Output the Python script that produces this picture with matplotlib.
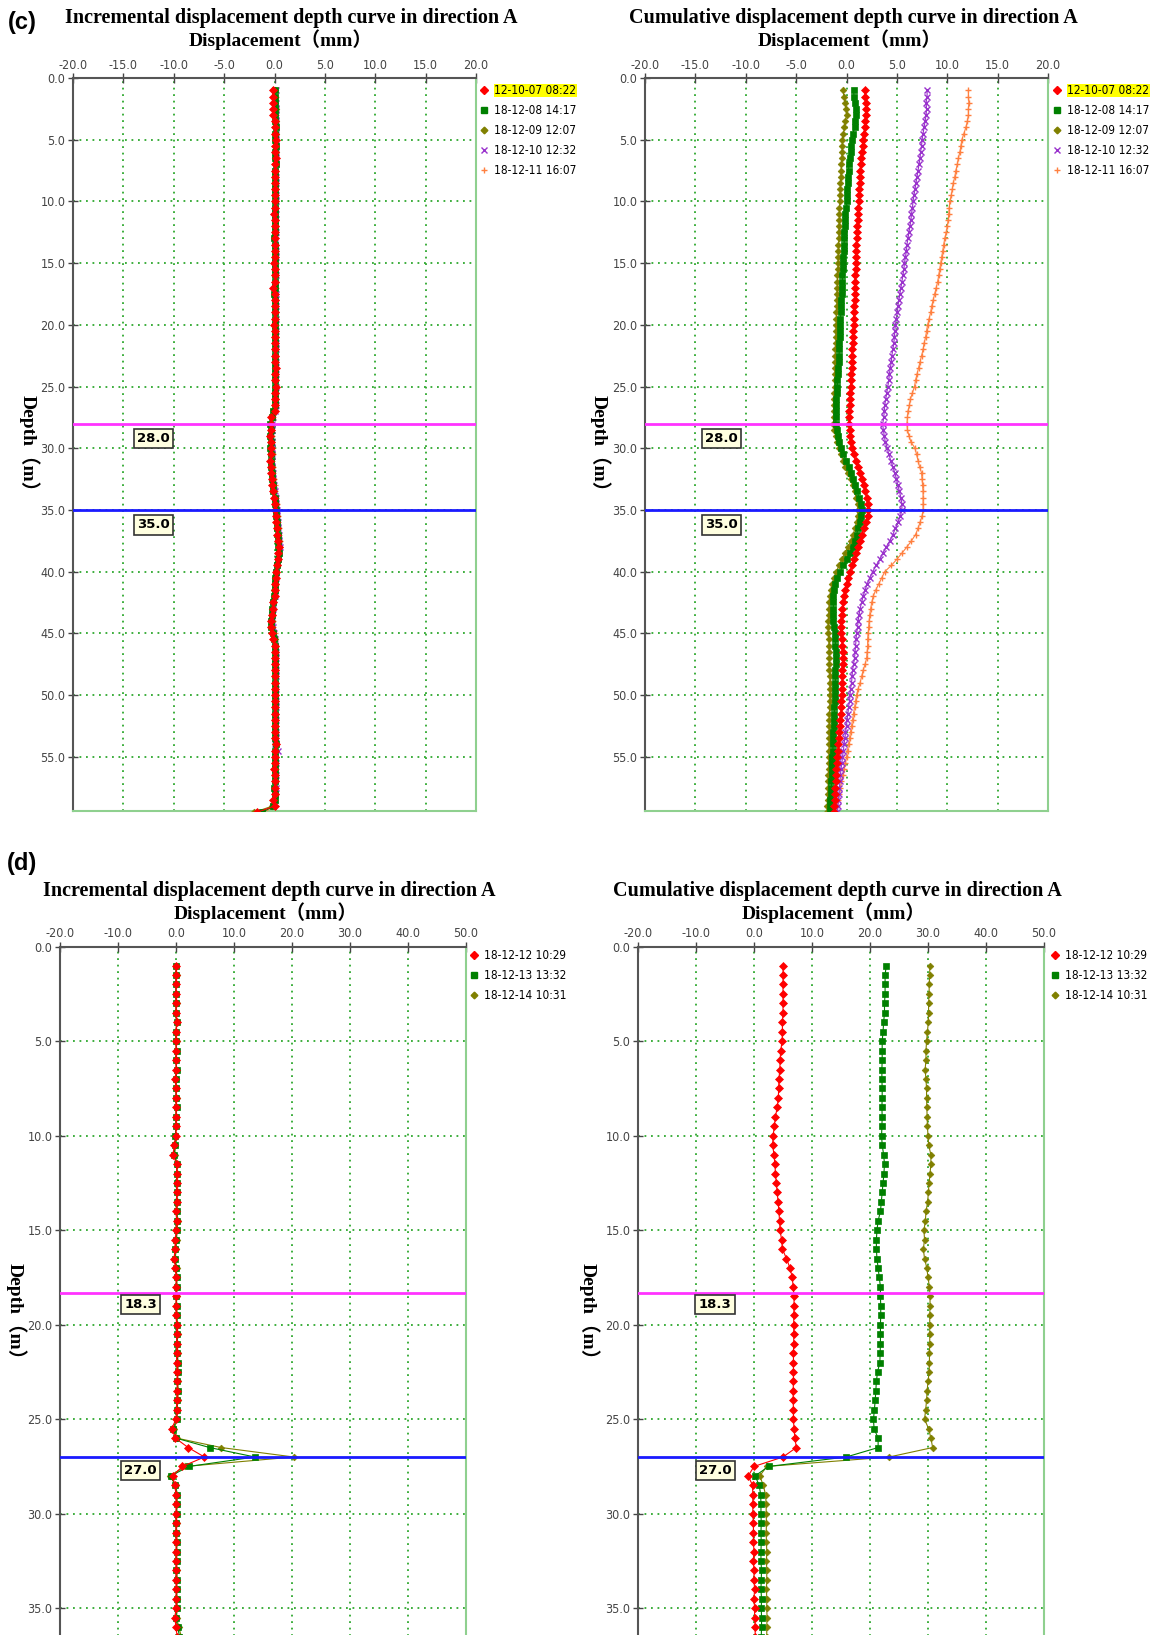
import numpy as np
import matplotlib
matplotlib.use("Agg")
import matplotlib.pyplot as plt
from matplotlib.lines import Line2D

# depth stations (m), 0.5 m spacing
depth_c = np.arange(1.0, 59.51, 0.5)
depth_d = np.arange(1.0, 37.01, 0.5)

labels_c = ["12-10-07 08:22", "18-12-08 14:17", "18-12-09 12:07", "18-12-10 12:32", "18-12-11 16:07"]
labels_d = ["18-12-12 10:29", "18-12-13 13:32", "18-12-14 10:31"]

# ---- (c) incremental displacement (mm), rows of 5 m ----
inc_c_red = [-0.1, -0.1, -0.15, -0.1, -0.15, 0.0, 0.05, 0.05, 0.1, 0.05,
             0.05, 0.1, 0.05, 0.05, 0.0, 0.05, 0.05, 0.0, 0.0, 0.05,
             -0.05, 0.0, 0.05, 0.0, 0.0, 0.05, 0.0, 0.0, -0.05, 0.0,
             0.0, 0.05, -0.1, 0.0, 0.0, 0.05, 0.0, 0.0, -0.05, 0.0,
             0.0, 0.05, 0.0, 0.0, 0.05, 0.1, 0.05, 0.0, 0.1, 0.05,
             0.0, 0.05, 0.0, -0.3, -0.35, -0.3, -0.4, -0.3, -0.35, -0.3,
             -0.4, -0.35, -0.3, -0.25, -0.2, -0.15, -0.05, 0.0, 0.05, 0.1,
             0.15, 0.2, 0.25, 0.3, 0.4, 0.35, 0.3, 0.2, 0.15, 0.1,
             0.0, 0.05, 0.0, -0.1, -0.15, -0.2, -0.3, -0.35, -0.2, -0.1,
             0.0, 0.0, 0.05, 0.05, 0.0, 0.0, 0.05, 0.0, 0.0, 0.05,
             0.05, 0.0, 0.05, 0.0, 0.0, 0.05, 0.1, 0.05, 0.0, 0.0,
             -0.05, 0.0, 0.05, 0.0, 0.0, -0.1, 0.0, -1.7]
inc_c_green = [0.0, 0.05, 0.0, 0.05, 0.0, 0.05, 0.1, 0.05, 0.05, 0.1,
               0.05, 0.05, 0.1, 0.0, 0.05, 0.0, 0.05, 0.05, 0.0, 0.0,
               0.0, 0.05, 0.0, 0.05, -0.05, 0.0, 0.05, 0.0, 0.0, 0.05,
               0.0, 0.0, 0.05, -0.05, 0.0, 0.0, 0.05, 0.0, 0.05, 0.0,
               0.05, 0.0, 0.05, 0.0, 0.0, 0.05, 0.0, 0.05, 0.0, 0.05,
               0.05, 0.0, -0.1, -0.25, -0.4, -0.35, -0.45, -0.3, -0.4, -0.3,
               -0.35, -0.3, -0.2, -0.2, -0.1, -0.1, 0.0, 0.05, 0.1, 0.15,
               0.2, 0.25, 0.3, 0.35, 0.35, 0.4, 0.3, 0.25, 0.15, 0.05,
               0.05, 0.0, -0.05, -0.1, -0.2, -0.25, -0.3, -0.3, -0.15, -0.05,
               0.05, 0.0, 0.0, 0.05, 0.05, 0.0, 0.0, 0.05, 0.05, 0.0,
               0.0, 0.05, 0.0, 0.05, 0.05, 0.0, 0.15, 0.0, 0.05, 0.0,
               0.0, 0.05, 0.0, -0.05, 0.0, 0.0, -0.1, -1.2]
inc_c_olive = [0.05, 0.0, 0.05, 0.1, 0.05, 0.1, 0.05, 0.1, 0.05, 0.05,
               0.1, 0.05, 0.05, 0.0, 0.05, 0.05, 0.0, 0.05, 0.05, 0.0,
               0.05, 0.0, 0.0, 0.05, 0.0, 0.0, 0.05, 0.05, 0.0, 0.0,
               0.05, 0.0, 0.0, 0.05, 0.0, 0.05, 0.0, 0.05, 0.0, 0.05,
               0.0, 0.05, 0.05, 0.0, 0.05, 0.0, 0.05, 0.0, 0.05, 0.0,
               0.0, 0.05, -0.05, -0.2, -0.3, -0.3, -0.35, -0.35, -0.3, -0.25,
               -0.3, -0.25, -0.2, -0.15, -0.1, -0.05, 0.05, 0.1, 0.15, 0.2,
               0.25, 0.3, 0.35, 0.4, 0.45, 0.35, 0.3, 0.2, 0.1, 0.05,
               0.0, -0.05, -0.05, -0.15, -0.2, -0.25, -0.25, -0.2, -0.1, 0.0,
               0.0, 0.05, 0.05, 0.0, 0.05, 0.05, 0.0, 0.05, 0.0, 0.05,
               0.05, 0.0, 0.05, 0.0, 0.05, 0.05, 0.0, 0.05, 0.0, 0.05,
               0.0, 0.05, 0.0, 0.05, 0.0, -0.05, -0.2, -2.0]
inc_c_purple = [0.1, 0.05, 0.1, 0.15, 0.1, 0.15, 0.1, 0.15, 0.1, 0.1,
                0.15, 0.1, 0.1, 0.05, 0.1, 0.1, 0.05, 0.1, 0.1, 0.05,
                0.1, 0.05, 0.05, 0.1, 0.05, 0.05, 0.1, 0.1, 0.05, 0.05,
                0.1, 0.05, 0.05, 0.1, 0.05, 0.1, 0.05, 0.1, 0.05, 0.1,
                0.05, 0.1, 0.1, 0.05, 0.1, 0.05, 0.1, 0.05, 0.1, 0.05,
                0.05, 0.1, 0.0, -0.15, -0.25, -0.2, -0.3, -0.25, -0.2, -0.2,
                -0.25, -0.2, -0.15, -0.1, -0.05, 0.0, 0.1, 0.15, 0.2, 0.25,
                0.3, 0.35, 0.4, 0.45, 0.5, 0.4, 0.35, 0.25, 0.15, 0.1,
                0.05, 0.0, 0.0, -0.1, -0.15, -0.2, -0.2, -0.15, -0.05, 0.05,
                0.05, 0.1, 0.1, 0.05, 0.1, 0.1, 0.05, 0.1, 0.05, 0.1,
                0.1, 0.05, 0.1, 0.05, 0.1, 0.1, 0.05, 0.3, 0.05, 0.1,
                0.05, 0.1, 0.05, 0.1, 0.05, 0.0, -0.1, -1.5]
inc_c_orange = [0.05, 0.1, 0.05, 0.1, 0.15, 0.1, 0.1, 0.15, 0.1, 0.15,
                0.1, 0.15, 0.1, 0.1, 0.05, 0.1, 0.1, 0.05, 0.1, 0.05,
                0.05, 0.1, 0.1, 0.05, 0.05, 0.1, 0.05, 0.05, 0.1, 0.05,
                0.05, 0.1, 0.1, 0.05, 0.1, 0.05, 0.1, 0.05, 0.1, 0.05,
                0.1, 0.05, 0.1, 0.1, 0.05, 0.1, 0.05, 0.1, 0.05, 0.1,
                0.1, 0.05, 0.0, -0.1, -0.2, -0.25, -0.25, -0.2, -0.25, -0.15,
                -0.2, -0.15, -0.1, -0.05, 0.0, 0.05, 0.1, 0.2, 0.25, 0.3,
                0.35, 0.4, 0.45, 0.5, 0.5, 0.45, 0.35, 0.3, 0.2, 0.1,
                0.1, 0.05, 0.0, -0.05, -0.1, -0.15, -0.15, -0.1, 0.0, 0.05,
                0.1, 0.1, 0.05, 0.1, 0.1, 0.05, 0.1, 0.05, 0.1, 0.1,
                0.05, 0.1, 0.1, 0.05, 0.1, 0.05, 0.1, 0.05, 0.1, 0.05,
                0.1, 0.05, 0.1, 0.05, 0.1, 0.05, 0.0, -1.0]

# ---- (c) cumulative displacement (mm) ----
cum_c_red = [1.8, 1.85, 1.9, 1.9, 1.9, 1.85, 1.8, 1.7, 1.65, 1.6,
             1.5, 1.45, 1.4, 1.35, 1.3, 1.3, 1.25, 1.2, 1.2, 1.15,
             1.1, 1.1, 1.05, 1.0, 1.0, 0.95, 0.95, 0.9, 0.9, 0.9,
             0.85, 0.85, 0.85, 0.8, 0.8, 0.75, 0.75, 0.7, 0.7, 0.65,
             0.65, 0.6, 0.55, 0.55, 0.5, 0.5, 0.45, 0.45, 0.4, 0.35,
             0.3, 0.3, 0.25, 0.25, 0.25, 0.3, 0.35, 0.4, 0.5, 0.7,
             0.9, 1.1, 1.3, 1.5, 1.7, 1.85, 2.0, 2.1, 2.15, 2.1,
             1.9, 1.7, 1.5, 1.3, 1.15, 0.95, 0.75, 0.55, 0.35, 0.15,
             0.0, -0.1, -0.2, -0.3, -0.4, -0.45, -0.5, -0.5, -0.5, -0.45,
             -0.4, -0.35, -0.35, -0.35, -0.4, -0.4, -0.4, -0.45, -0.45, -0.5,
             -0.5, -0.55, -0.6, -0.65, -0.7, -0.75, -0.8, -0.85, -0.9, -0.95,
             -1.0, -1.0, -1.05, -1.1, -1.1, -1.15, -1.2, -1.2]
cum_c_green = [0.7, 0.75, 0.85, 0.9, 0.9, 0.85, 0.8, 0.65, 0.5, 0.45,
               0.4, 0.35, 0.25, 0.2, 0.15, 0.1, 0.05, 0.0, 0.0, -0.05,
               -0.1, -0.1, -0.15, -0.2, -0.2, -0.25, -0.25, -0.3, -0.35, -0.35,
               -0.4, -0.4, -0.45, -0.45, -0.5, -0.55, -0.55, -0.6, -0.6, -0.65,
               -0.65, -0.7, -0.7, -0.75, -0.75, -0.8, -0.85, -0.9, -0.9, -0.95,
               -1.0, -1.0, -1.05, -1.05, -1.05, -0.95, -0.85, -0.7, -0.5, -0.3,
               -0.05, 0.2, 0.4, 0.65, 0.85, 1.05, 1.25, 1.4, 1.5, 1.45,
               1.3, 1.15, 1.0, 0.8, 0.6, 0.3, 0.0, -0.3, -0.65, -0.95,
               -1.15, -1.25, -1.3, -1.3, -1.3, -1.3, -1.3, -1.25, -1.15, -1.1,
               -1.1, -1.05, -1.05, -1.05, -1.1, -1.1, -1.1, -1.15, -1.15, -1.15,
               -1.2, -1.2, -1.25, -1.25, -1.3, -1.3, -1.35, -1.35, -1.4, -1.4,
               -1.45, -1.45, -1.5, -1.5, -1.55, -1.6, -1.6, -1.65]
cum_c_olive = [-0.35, -0.25, -0.15, -0.05, 0.0, -0.1, -0.2, -0.3, -0.4, -0.4,
               -0.45, -0.45, -0.5, -0.55, -0.55, -0.6, -0.6, -0.65, -0.65, -0.7,
               -0.7, -0.7, -0.75, -0.75, -0.75, -0.8, -0.8, -0.8, -0.85, -0.85,
               -0.9, -0.9, -0.9, -0.95, -0.95, -0.95, -1.0, -1.0, -1.0, -1.05,
               -1.05, -1.05, -1.1, -1.1, -1.1, -1.15, -1.15, -1.15, -1.15, -1.2,
               -1.2, -1.2, -1.25, -1.25, -1.3, -1.2, -1.05, -0.9, -0.75, -0.55,
               -0.35, -0.1, 0.15, 0.4, 0.6, 0.8, 0.95, 1.1, 1.15, 1.1,
               1.0, 0.85, 0.65, 0.45, 0.15, -0.15, -0.45, -0.75, -1.0, -1.25,
               -1.4, -1.55, -1.65, -1.7, -1.75, -1.75, -1.8, -1.8, -1.8, -1.75,
               -1.75, -1.7, -1.7, -1.7, -1.7, -1.65, -1.65, -1.65, -1.65, -1.65,
               -1.65, -1.7, -1.7, -1.7, -1.7, -1.7, -1.7, -1.75, -1.7, -1.75,
               -1.75, -1.8, -1.8, -1.8, -1.85, -1.85, -1.9, -1.9]
cum_c_purple = [8.0, 8.0, 7.9, 7.95, 7.9, 7.8, 7.7, 7.6, 7.5, 7.45,
                7.35, 7.3, 7.2, 7.1, 7.0, 6.9, 6.8, 6.7, 6.6, 6.55,
                6.45, 6.4, 6.3, 6.2, 6.1, 6.0, 5.95, 5.85, 5.75, 5.7,
                5.6, 5.5, 5.4, 5.3, 5.2, 5.1, 5.05, 4.95, 4.85, 4.8,
                4.75, 4.7, 4.6, 4.5, 4.45, 4.35, 4.25, 4.2, 4.1, 4.0,
                3.9, 3.8, 3.75, 3.7, 3.6, 3.65, 3.75, 3.85, 4.05, 4.2,
                4.4, 4.6, 4.8, 4.95, 5.1, 5.25, 5.4, 5.5, 5.5, 5.35,
                5.1, 4.85, 4.6, 4.3, 3.95, 3.6, 3.3, 2.95, 2.6, 2.3,
                2.05, 1.85, 1.65, 1.5, 1.35, 1.25, 1.15, 1.1, 1.0, 0.95,
                0.9, 0.85, 0.8, 0.7, 0.6, 0.55, 0.5, 0.4, 0.35, 0.3,
                0.2, 0.15, 0.05, 0.0, -0.1, -0.15, -0.25, -0.3, -0.4, -0.45,
                -0.55, -0.6, -0.65, -0.7, -0.75, -0.8, -0.85, -0.9]
cum_c_orange = [12.1, 12.1, 12.15, 12.1, 12.1, 12.0, 11.85, 11.65, 11.45, 11.35,
                11.25, 11.1, 11.0, 10.85, 10.75, 10.6, 10.5, 10.4, 10.25, 10.2,
                10.15, 10.1, 10.0, 9.9, 9.75, 9.65, 9.55, 9.45, 9.35, 9.25,
                9.15, 9.05, 8.9, 8.75, 8.6, 8.45, 8.35, 8.2, 8.05, 7.95,
                7.85, 7.7, 7.6, 7.45, 7.3, 7.15, 7.0, 6.85, 6.75, 6.55,
                6.35, 6.25, 6.1, 6.05, 6.0, 6.05, 6.2, 6.4, 6.8, 6.95,
                7.1, 7.25, 7.45, 7.5, 7.55, 7.6, 7.6, 7.6, 7.6, 7.5,
                7.3, 7.1, 6.85, 6.45, 6.0, 5.5, 5.0, 4.45, 3.8, 3.5,
                3.2, 2.9, 2.65, 2.5, 2.4, 2.3, 2.25, 2.2, 2.15, 2.1,
                2.1, 2.05, 2.0, 1.85, 1.65, 1.5, 1.35, 1.15, 1.0, 0.9,
                0.8, 0.7, 0.6, 0.5, 0.4, 0.3, 0.2, 0.1, 0.0, -0.1,
                -0.25, -0.35, -0.5, -0.6, -0.7, -0.8, -0.9, -1.0]

# ---- (d) incremental displacement (mm) ----
inc_d_red = [0.0, 0.0, 0.0, 0.0, 0.0, 0.0, 0.1, 0.0, 0.0, 0.0,
             0.0, 0.0, -0.1, 0.0, 0.0, 0.0, 0.0, 0.0, 0.0, -0.3,
             -0.5, 0.1, 0.1, 0.1, 0.1, 0.1, 0.0, 0.1, 0.0, -0.1,
             -0.2, -0.3, -0.1, 0.0, 0.0, 0.0, 0.0, 0.0, 0.1, 0.1,
             0.1, 0.1, 0.1, 0.2, 0.2, 0.2, 0.1, 0.1, 0.0, -0.75,
             -0.1, 2.1, 4.9, 1.1, -0.6, -0.2, 0.0, 0.0, 0.0, 0.0,
             0.0, 0.0, 0.0, 0.0, 0.0, 0.0, 0.0, 0.0, 0.0, -0.2,
             0.0, 0.2, 0.3]
inc_d_green = [0.0, 0.0, 0.0, 0.0, 0.0, 0.0, 0.2, 0.0, 0.0, 0.1,
               0.0, 0.1, 0.0, 0.0, 0.0, 0.1, 0.0, 0.0, -0.1, -0.2,
               -0.3, 0.1, 0.2, 0.1, 0.1, 0.2, 0.1, 0.2, 0.1, 0.0,
               -0.1, -0.2, 0.0, 0.1, 0.1, 0.0, 0.1, 0.1, 0.2, 0.2,
               0.2, 0.2, 0.3, 0.3, 0.2, 0.3, 0.2, 0.2, 0.1, -0.5,
               0.0, 5.8, 13.6, 2.2, -0.9, -0.1, 0.1, 0.1, 0.1, 0.0,
               0.0, 0.1, 0.1, 0.1, 0.0, 0.1, 0.1, 0.1, 0.1, 0.0,
               0.3, 0.6, 0.8]
inc_d_olive = [0.0, 0.1, 0.0, 0.0, 0.1, 0.0, 0.1, 0.0, 0.1, 0.0,
               0.0, 0.1, 0.0, 0.0, 0.1, 0.0, 0.0, 0.0, -0.1, -0.1,
               -0.2, 0.2, 0.2, 0.1, 0.2, 0.2, 0.2, 0.3, 0.2, 0.1,
               0.0, -0.1, 0.1, 0.1, 0.2, 0.1, 0.1, 0.2, 0.2, 0.3,
               0.2, 0.3, 0.3, 0.3, 0.3, 0.4, 0.3, 0.2, 0.2, -0.3,
               0.1, 7.8, 20.3, 1.6, -1.1, 0.0, 0.2, 0.2, 0.1, 0.1,
               0.1, 0.2, 0.1, 0.1, 0.2, 0.2, 0.1, 0.2, 0.2, 0.1,
               0.5, 0.9, 1.1]

# ---- (d) cumulative displacement (mm) ----
cum_d_red = [5.0, 5.0, 5.0, 5.0, 5.0, 5.0, 4.9, 4.9, 4.85, 4.6,
             4.5, 4.45, 4.3, 4.25, 4.2, 4.0, 3.7, 3.5, 3.3, 3.2,
             3.45, 3.6, 3.7, 3.85, 4.0, 4.15, 4.3, 4.4, 4.5, 4.75,
             4.9, 5.6, 6.2, 6.6, 6.75, 6.9, 6.9, 6.85, 6.85, 6.85,
             6.85, 6.8, 6.8, 6.8, 6.8, 6.75, 6.75, 6.8, 6.8, 6.9,
             7.05, 7.3, 5.0, 0.0, -1.0, -0.25, -0.2, -0.2, -0.2, -0.1,
             -0.1, -0.1, 0.0, -0.1, 0.0, 0.0, 0.1, 0.0, 0.1, 0.1,
             0.2, 0.2, 0.3]
cum_d_green = [22.8, 22.6, 22.6, 22.6, 22.5, 22.5, 22.35, 22.25, 22.1, 22.1,
               22.1, 22.05, 22.05, 22.1, 22.1, 22.05, 22.1, 22.05, 22.0, 22.1,
               22.35, 22.5, 22.4, 22.25, 22.1, 21.95, 21.8, 21.4, 21.2, 21.1,
               21.1, 21.2, 21.4, 21.6, 21.8, 21.8, 21.85, 21.85, 21.8, 21.8,
               21.8, 21.75, 21.7, 21.3, 21.1, 21.0, 20.9, 20.75, 20.6, 20.7,
               21.4, 21.4, 15.9, 2.5, 0.2, 0.9, 1.15, 1.2, 1.2, 1.25,
               1.2, 1.25, 1.2, 1.2, 1.3, 1.25, 1.2, 1.3, 1.25, 1.3,
               1.3, 1.25, 1.3]
cum_d_olive = [30.3, 30.3, 30.2, 30.2, 30.1, 30.1, 30.05, 29.9, 29.75, 29.65,
               29.65, 29.5, 29.65, 29.75, 29.75, 29.8, 29.85, 29.9, 30.0, 30.1,
               30.5, 30.5, 30.35, 30.2, 30.05, 29.95, 29.65, 29.55, 29.3, 29.4,
               29.2, 29.4, 29.8, 30.0, 30.25, 30.35, 30.35, 30.3, 30.3, 30.3,
               30.3, 30.25, 30.25, 30.2, 30.0, 29.85, 29.75, 29.6, 29.4, 30.1,
               30.5, 30.8, 23.3, 2.2, 1.0, 1.6, 2.0, 2.1, 2.1, 2.15,
               2.1, 2.15, 2.2, 2.15, 2.2, 2.2, 2.15, 2.2, 2.2, 2.25,
               2.2, 2.2, 2.25]

# marker styles per series: (color, marker, size)
styles = [("#ff0000", "D", 4.2),
          ("#008000", "s", 5.0),
          ("#808000", "D", 3.4),
          ("#9932cc", "x", 4.0),
          ("#ff8040", "+", 5.0)]

W, H = 1153, 1635
GRID_GREEN = "#2ea82e"
SERIF = ["Liberation Serif", "Noto Sans CJK SC"]

fig = plt.figure(figsize=(W / 100, H / 100), dpi=100)


def add_ax(left, top, right, bottom):
    return fig.add_axes([left / W, 1 - bottom / H, (right - left) / W, (bottom - top) / H])


def draw_panel(ax, depth, series, labels, xlim, xstep, ymax, ystep, levels, box_x, box_off,
               legend_xy, highlight):
    for i in reversed(range(len(series))):
        c, m, s = styles[i]
        ax.plot(series[i], depth, color=c, marker=m, markersize=s, lw=0.8,
                markeredgewidth=1.0 if m in "x+" else 0.5, zorder=3 + (len(series) - i) * 0.1)
    ax.axhline(levels[0], color="#ff33ff", lw=2, zorder=5)
    ax.axhline(levels[1], color="#1a1aff", lw=2, zorder=5)
    for lv, off in zip(levels, box_off):
        ax.annotate("%.1f" % lv, xy=(box_x, lv), xytext=(0, off), textcoords="offset points",
                    ha="center", va="top", fontsize=9.5, fontweight="bold", family="DejaVu Sans",
                    bbox=dict(boxstyle="square,pad=0.25", fc="#ffffe0", ec="#333333", lw=1.2),
                    zorder=6)
    ax.set_xlim(*xlim)
    ax.set_ylim(ymax, 0)
    ax.set_xticks(np.arange(xlim[0], xlim[1] + 0.1, xstep))
    ax.set_yticks(np.arange(0, ymax, ystep))
    ax.xaxis.tick_top()
    ax.xaxis.set_major_formatter(matplotlib.ticker.FormatStrFormatter("%.1f"))
    ax.yaxis.set_major_formatter(matplotlib.ticker.FormatStrFormatter("%.1f"))
    ax.tick_params(direction="inout", length=7, width=1, color="#444444",
                   labelcolor="#444444", labelsize=9)
    ax.tick_params(axis="x", pad=1)
    ax.tick_params(axis="y", pad=2)
    for lab in ax.get_xticklabels() + ax.get_yticklabels():
        lab.set_family("DejaVu Sans")
        lab.set_stretch("condensed")
    ax.grid(True, color=GRID_GREEN, linestyle=(0, (1, 2.6)), lw=1.3)
    ax.set_axisbelow(True)
    ax.spines["left"].set_color("#555555")
    ax.spines["top"].set_color("#555555")
    ax.spines["right"].set_color("#8fd08f")
    ax.spines["bottom"].set_color("#8fd08f")
    for sp in ax.spines.values():
        sp.set_linewidth(1.5)

    handles = [Line2D([], [], ls="none", color=styles[i][0], marker=styles[i][1],
                      markersize=min(styles[i][2], 4.5), markeredgewidth=1.0)
               for i in range(len(labels))]
    leg = fig.legend(handles, labels, loc="upper left",
                     bbox_to_anchor=(legend_xy[0] / W, 1 - legend_xy[1] / H),
                     frameon=False, fontsize=8.5, handlelength=0.8, handletextpad=0.5,
                     labelspacing=0.6, borderpad=0, borderaxespad=0)
    for t in leg.get_texts():
        t.set_family("DejaVu Sans")
        t.set_stretch("condensed")
    if highlight:
        leg.get_texts()[0].set_bbox(dict(facecolor="#ffff00", edgecolor="none", pad=0.3))


def headings(cx_title, cx_label, y_title, y_label, title):
    fig.text(cx_title / W, 1 - y_title / H, title, ha="center", va="center",
             fontsize=14.5, fontweight="bold", family=SERIF)
    fig.text(cx_label / W, 1 - y_label / H, "Displacement（mm）", ha="center", va="center",
             fontsize=14, fontweight="bold", family=SERIF)


def depth_label(x, y):
    fig.text(x / W, 1 - y / H, "Depth（m）", rotation=-90, ha="center", va="center",
             fontsize=14, fontweight="bold", family=SERIF)


inc_title = "Incremental displacement depth curve in direction A"
cum_title = "Cumulative displacement depth curve in direction A"

# ---- panel (c) ----
ax1 = add_ax(73, 78, 476, 811)
draw_panel(ax1, depth_c, [inc_c_red, inc_c_green, inc_c_olive, inc_c_purple, inc_c_orange],
           labels_c, (-20, 20), 5, 59.4, 5, (28.0, 35.0), -12.0, (-6, -6), (479, 84), True)
ax2 = add_ax(645, 78, 1048, 811)
draw_panel(ax2, depth_c, [cum_c_red, cum_c_green, cum_c_olive, cum_c_purple, cum_c_orange],
           labels_c, (-20, 20), 5, 59.4, 5, (28.0, 35.0), -12.4, (-6, -6), (1052, 84), True)
headings(291, 281, 18, 40, inc_title)
headings(853, 850, 18, 40, cum_title)
depth_label(29, 448)
depth_label(600, 448)

# ---- panel (d) ----
d_bottom = 946.7 + 40 * 18.9
ax3 = add_ax(60, 946.7, 466, d_bottom)
draw_panel(ax3, depth_d, [inc_d_red, inc_d_green, inc_d_olive],
           labels_d, (-20, 50), 10, 40, 5, (18.3, 27.0), -6.1, (-4, -5), (469, 949), False)
ax4 = add_ax(638, 946.7, 1044, d_bottom)
draw_panel(ax4, depth_d, [cum_d_red, cum_d_green, cum_d_olive],
           labels_d, (-20, 50), 10, 40, 5, (18.3, 27.0), -6.7, (-4, -5), (1050, 949), False)
headings(269, 266, 891, 913, inc_title)
headings(837, 834, 891, 913, cum_title)
depth_label(16, 1316)
depth_label(589, 1316)

fig.text(22 / W, 1 - 22 / H, "(c)", ha="center", va="center", fontsize=17,
         fontweight="bold", family="Liberation Sans")
fig.text(22 / W, 1 - 863 / H, "(d)", ha="center", va="center", fontsize=17,
         fontweight="bold", family="Liberation Sans")

fig.savefig("out.png", dpi=100)
